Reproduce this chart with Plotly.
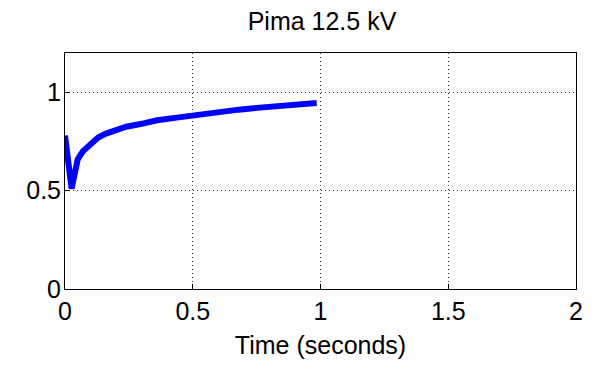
import plotly.graph_objects as go

time_s = [0, 0.005, 0.012, 0.02, 0.026, 0.032, 0.04, 0.05, 0.07, 0.1, 0.13, 0.16,
          0.2, 0.24, 0.3, 0.36, 0.43, 0.5, 0.6, 0.68, 0.75, 0.81, 0.9, 0.985]
voltage = [0.78, 0.72, 0.62, 0.53, 0.51, 0.55, 0.62, 0.66, 0.70, 0.74, 0.77, 0.79,
           0.81, 0.825, 0.84, 0.858, 0.870, 0.883, 0.898, 0.912, 0.921, 0.929, 0.938, 0.946]

x_ticks = [0, 0.5, 1, 1.5, 2]
x_labels = ["0", "0.5", "1", "1.5", "2"]
y_ticks = [0, 0.5, 1]
y_labels = ["0", "0.5", "1"]

fig = go.Figure()
fig.add_trace(go.Scatter(x=time_s, y=voltage, mode="lines",
                         line=dict(color="#0000ff", width=6), showlegend=False))

font = "Liberation Sans, Arial, Helvetica, sans-serif"
fsize = 25
axis_common = dict(showline=True, linecolor="black", linewidth=1, mirror=True,
                   ticks="inside", ticklen=5, tickcolor="black",
                   showgrid=True, gridcolor="#333333", gridwidth=1, griddash="1px,3px",
                   zeroline=False, tickfont=dict(family=font, size=fsize, color="black"))

fig.update_layout(
    width=595, height=367,
    margin=dict(l=65, r=16, t=53, b=78),
    paper_bgcolor="white", plot_bgcolor="white",
    title=dict(text="Pima 12.5 kV", x=(65 + 579) / 2 / 595, xanchor="center",
               y=1 - 21 / 367, yanchor="middle",
               font=dict(family=font, size=fsize, color="black")),
    xaxis=dict(range=[0, 2], tickvals=x_ticks, ticktext=x_labels,
               title=dict(text="Time (seconds)", font=dict(family=font, size=fsize, color="black"),
                          standoff=12),
               **axis_common),
    yaxis=dict(range=[0, 1.2], tickvals=y_ticks, ticktext=y_labels,
               ticklabelstandoff=-2, **axis_common),
)

fig.write_html("out.html")
